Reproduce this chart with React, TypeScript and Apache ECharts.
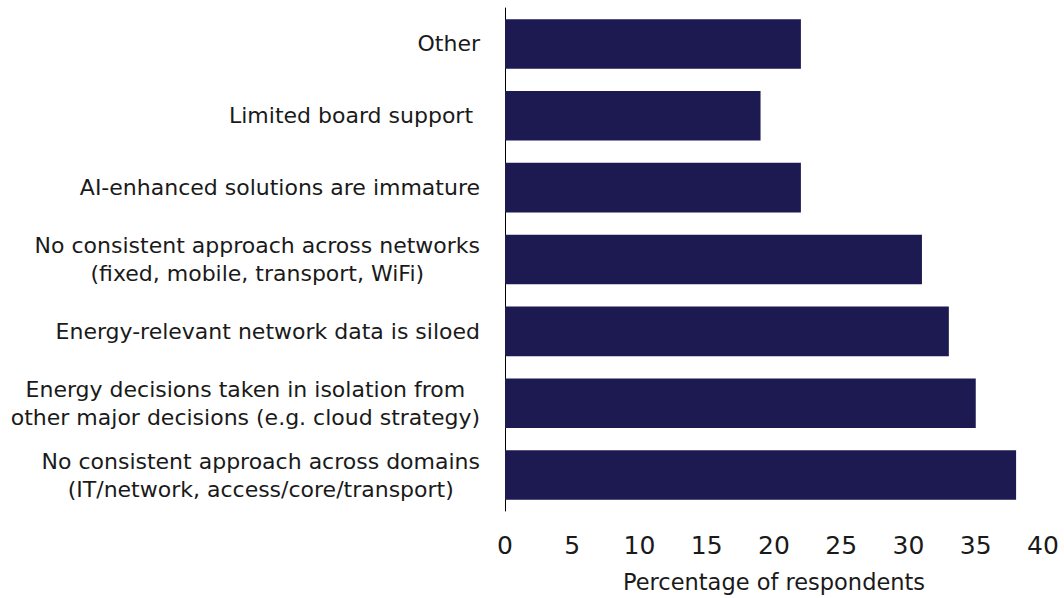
import React, { useEffect, useRef } from "react";
import * as echarts from "echarts";

const categories = [
  "Other",
  "Limited board support ",
  "AI-enhanced solutions are immature",
  "No consistent approach across networks\n(fixed, mobile, transport, WiFi)",
  "Energy-relevant network data is siloed",
  "Energy decisions taken in isolation from\nother major decisions (e.g. cloud strategy)",
  "No consistent approach across domains\n(IT/network, access/core/transport)",
];
const values = [22, 19, 22, 31, 33, 35, 38];
const xTicks = { min: 0, max: 40, interval: 5 };
const xName = "Percentage of respondents";

const FONT = "DejaVu Sans";

export default function App() {
  const ref = useRef<HTMLDivElement>(null);
  useEffect(() => {
    if (!ref.current) return;
    const chart = echarts.init(ref.current, undefined, { renderer: "svg" });
    chart.setOption({
      animation: false,
      backgroundColor: "#ffffff",
      textStyle: { fontFamily: FONT },
      grid: { left: 505, right: 21, top: 8, bottom: 83, containLabel: false },
      xAxis: {
        type: "value",
        min: xTicks.min,
        max: xTicks.max,
        interval: xTicks.interval,
        axisLine: { show: false },
        axisTick: { show: false },
        splitLine: { show: false },
        axisLabel: { color: "#1a1a1a", fontSize: 25, fontFamily: FONT, margin: 22 },
        name: xName,
        nameLocation: "middle",
        nameGap: 59,
        nameTextStyle: { color: "#1a1a1a", fontSize: 22.5, fontFamily: FONT },
      },
      yAxis: {
        type: "category",
        data: categories,
        inverse: true,
        axisLine: { show: true, lineStyle: { color: "#000000", width: 1 } },
        axisTick: { show: false },
        axisLabel: {
          color: "#1a1a1a",
          fontSize: 22,
          fontFamily: FONT,
          margin: 25,
          align: "right",
          lineHeight: 28,
          formatter: (v: string) =>
            v
              .split("\n")
              .map((l) => "{c|" + l + "}")
              .join("\n"),
          rich: {
            c: { align: "center", fontSize: 22, fontFamily: FONT, lineHeight: 28, color: "#1a1a1a" },
          },
        },
      },
      series: [
        {
          type: "bar",
          data: values,
          barCategoryGap: "31%",
          itemStyle: { color: "#1d1a52" },
        },
      ],
    });
    return () => chart.dispose();
  }, []);
  return (
    <div
      ref={ref}
      style={{ position: "fixed", left: 0, top: 0, width: 1064, height: 598 }}
    />
  );
}
